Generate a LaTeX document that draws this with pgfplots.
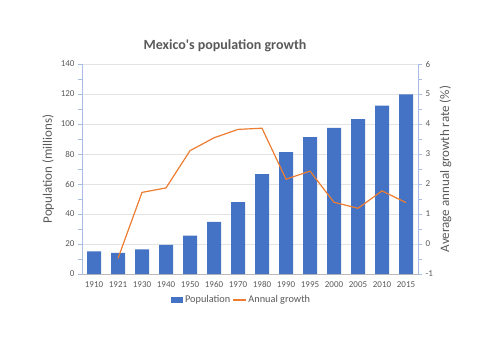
\documentclass[border=0pt]{standalone}
\usepackage{pgfplots}
\pgfplotsset{compat=1.18}
\usepackage{fontspec}
\setmainfont{Carlito}
\definecolor{barblue}{HTML}{4472C4}
\definecolor{lineor}{HTML}{ED7D31}
\definecolor{txtgray}{HTML}{595959}
\definecolor{axblue}{HTML}{A9BDE3}
\definecolor{gridgray}{HTML}{E3E3E3}
\begin{document}
\begin{tikzpicture}[x=1pt,y=1pt]
\path (0,0) rectangle (500,354);
\begin{axis}[
  at={(82pt,80pt)}, anchor=south west,
  scale only axis, width=336pt, height=210pt,
  xmin=-0.5, xmax=13.5,
  ymin=0, ymax=140,
  xtick={0,...,13},
  xticklabels={1910,1921,1930,1940,1950,1960,1970,1980,1990,1995,2000,2005,2010,2015},
  ytick={0,20,...,140},
  minor ytick={10,30,...,130},
  axis y line*=left, axis x line*=bottom,
  axis line style={axblue, line width=0.8pt},
  x axis line style={-, gridgray!60!gray, line width=0.8pt},
  y axis line style={-},
  ymajorgrids, grid style={gridgray, line width=0.7pt},
  minor grid style={draw=none},
  major x tick style={draw=none},
  y tick style={axblue, line width=0.7pt},
  tick align=outside,
  major tick length=4pt, minor tick length=4pt,
  ticklabel style={font=\fontsize{9}{10}\selectfont, text=txtgray},
  /pgf/number format/assume math mode=true,
  ylabel={Population (millions)},
  ylabel style={font=\fontsize{13}{14}\selectfont, text=txtgray},
  legend style={draw=none, fill=none, at={(0.475,-0.124)}, anchor=center,
    legend columns=2, font=\fontsize{10.3}{11}\selectfont, text=txtgray,
    /tikz/every even column/.append style={column sep=0pt},
    inner sep=1pt},
  legend image code/.code={\fill[barblue] (0pt,-3pt) rectangle (12pt,3pt);},
]
\addplot[ybar, bar width=14pt, fill=barblue, draw=none] coordinates {
(0,15.1) (1,14.1) (2,16.5) (3,19.5) (4,25.6) (5,34.8) (6,48.0) (7,66.6)
(8,81.2) (9,91.2) (10,97.4) (11,103.2) (12,112.2) (13,119.8)};
\addlegendentry{Population}
\addlegendimage{legend image code/.code={\draw[lineor, line width=1.2pt] (0pt,0pt) -- (13pt,0pt);}}
\addlegendentry{Annual growth}
\end{axis}
\begin{axis}[
  at={(82pt,80pt)}, anchor=south west,
  scale only axis, width=336pt, height=210pt,
  xmin=-0.5, xmax=13.5,
  ymin=-1, ymax=6,
  ytick={-1,0,...,6},
  minor ytick={-0.5,0.5,...,5.5},
  axis y line*=right, axis x line=none,
  axis line style={-, axblue, line width=0.8pt},
  y tick style={axblue, line width=0.7pt},
  tick align=outside,
  major tick length=4pt, minor tick length=4pt,
  ticklabel style={font=\fontsize{9}{10}\selectfont, text=txtgray},
  /pgf/number format/assume math mode=true,
  ylabel={Average annual growth rate (\%)},
  ylabel style={font=\fontsize{13}{14}\selectfont, text=txtgray},
]
\addplot[lineor, line width=1.2pt, no marks] coordinates {
(1,-0.48) (2,1.72) (3,1.87) (4,3.11) (5,3.54) (6,3.82) (7,3.86)
(8,2.16) (9,2.43) (10,1.39) (11,1.19) (12,1.77) (13,1.38)};
\end{axis}
\node[font=\bfseries\fontsize{14}{16}\selectfont, text=txtgray] at (225,308) {Mexico\textquotesingle s population growth};
\end{tikzpicture}
\end{document}
